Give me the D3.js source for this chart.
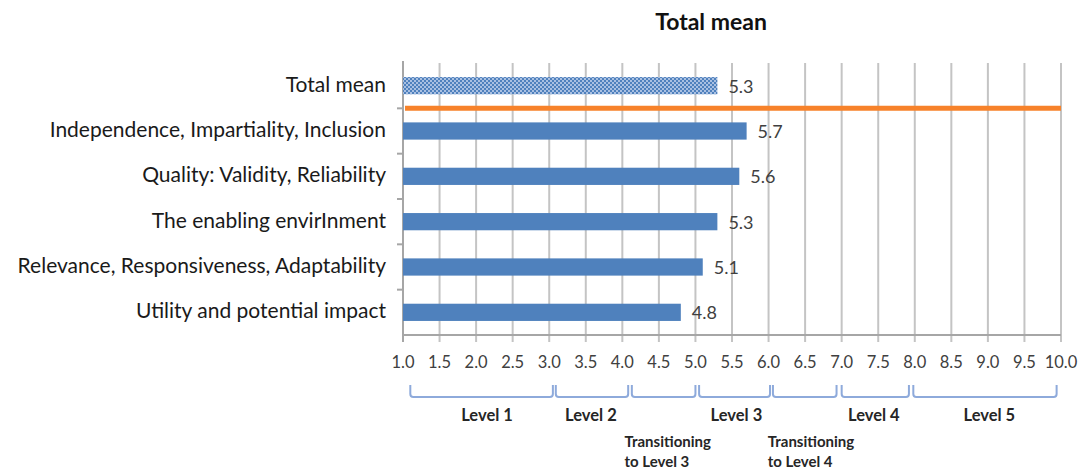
<!DOCTYPE html>
<html>
<head>
<meta charset="utf-8">
<script src="https://cdn.jsdelivr.net/npm/d3@7"></script>
<style>
  body { margin: 0; background: #fff; }
  text { font-family: Lato, "Open Sans", sans-serif; }
</style>
</head>
<body>
<div id="chart"></div>
<script>
// 数据
const categories = ['Total mean', 'Independence, Impartiality, Inclusion', 'Quality: Validity, Reliability',
    'The enabling envirInment', 'Relevance, Responsiveness, Adaptability', 'Utility and potential impact'];
const values = [5.3, 5.7, 5.6, 5.3, 5.1, 4.8];
const xTicks = [1.0, 1.5, 2.0, 2.5, 3.0, 3.5, 4.0, 4.5, 5.0, 5.5, 6.0, 6.5, 7.0, 7.5, 8.0, 8.5, 9.0, 9.5, 10.0];

// 等级括号（起点、终点）
const levelStart = [1.1, 3.09, 4.13, 5.05, 6.06, 7.0, 7.98];
const levelEnd = [3.05, 4.08, 5.0, 6.02, 6.93, 7.92, 9.94];
const levelLabels = ['Level 1', 'Level 2', 'Level 3', 'Level 4', 'Level 5'];
const levelLabelPos = [2.15, 3.57, 5.56, 7.44, 9.02];
const transitionLabels = [['Transitioning', 'to Level 3'], ['Transitioning', 'to Level 4']];
const transitionPos = [4.03, 5.99];

const width = 1085, height = 470;
const margin = { top: 63, right: 24, bottom: 135, left: 403 };

const svg = d3.select('#chart').append('svg')
    .attr('width', width)
    .attr('height', height);

// 图案（总均值的网格填充）
const defs = svg.append('defs');
const pat = defs.append('pattern')
    .attr('id', 'dots')
    .attr('width', 4).attr('height', 4)
    .attr('patternUnits', 'userSpaceOnUse');
pat.append('rect').attr('width', 4).attr('height', 4).attr('fill', '#a9c0e2');
pat.append('rect').attr('width', 2).attr('height', 2).attr('fill', '#4f81bd');
pat.append('rect').attr('x', 2).attr('y', 2).attr('width', 2).attr('height', 2).attr('fill', '#4f81bd');

const x = d3.scaleLinear()
    .domain([1, 10])
    .range([margin.left, width - margin.right]);

const y = d3.scaleBand()
    .domain(categories)
    .range([margin.top, height - margin.bottom]);

const plotBottom = height - margin.bottom;

// 标题
svg.append('text')
    .attr('x', 711)
    .attr('y', 30)
    .attr('text-anchor', 'middle')
    .attr('font-size', '23px')
    .attr('font-weight', 'bold')
    .attr('fill', '#111')
    .text('Total mean');

// 网格线
svg.selectAll('.grid')
    .data(xTicks.slice(1))
    .enter()
    .append('line')
    .attr('class', 'grid')
    .attr('x1', d => x(d)).attr('x2', d => x(d))
    .attr('y1', margin.top).attr('y2', plotBottom + 7)
    .attr('stroke', '#c4c4c4')
    .attr('stroke-width', 2);

// 轴线
svg.append('line')
    .attr('x1', x(1)).attr('x2', x(1))
    .attr('y1', margin.top - 2).attr('y2', plotBottom + 7)
    .attr('stroke', '#a6a6a6').attr('stroke-width', 2);
svg.append('line')
    .attr('x1', x(1)).attr('x2', x(10))
    .attr('y1', plotBottom).attr('y2', plotBottom)
    .attr('stroke', '#a6a6a6').attr('stroke-width', 2);

// y 轴刻度
svg.selectAll('.ytick')
    .data(categories.slice(1))
    .enter()
    .append('line')
    .attr('class', 'ytick')
    .attr('x1', x(1) - 6).attr('x2', x(1))
    .attr('y1', d => y(d)).attr('y2', d => y(d))
    .attr('stroke', '#a6a6a6').attr('stroke-width', 2);

// 条形
const barH = y.bandwidth() * 0.38;
svg.selectAll('.bar')
    .data(categories)
    .enter()
    .append('rect')
    .attr('class', 'bar')
    .attr('x', x(1))
    .attr('y', d => y(d) + y.bandwidth() / 2 - barH / 2)
    .attr('width', (d, i) => x(values[i]) - x(1))
    .attr('height', barH)
    .attr('fill', (d, i) => i === 0 ? 'url(#dots)' : '#4f81bd');

// 橙色分隔线
svg.append('line')
    .attr('x1', x(1) + 2).attr('x2', x(10))
    .attr('y1', y(categories[1])).attr('y2', y(categories[1]))
    .attr('stroke', '#f7822a')
    .attr('stroke-width', 5);

// 数值标签
svg.selectAll('.val')
    .data(categories)
    .enter()
    .append('text')
    .attr('class', 'val')
    .attr('x', (d, i) => x(values[i]) + 11)
    .attr('y', d => y(d) + y.bandwidth() / 2 + 7)
    .attr('font-size', '18px')
    .attr('fill', '#404040')
    .text((d, i) => values[i].toFixed(1));

// y 标签
svg.selectAll('.ylabel')
    .data(categories)
    .enter()
    .append('text')
    .attr('class', 'ylabel')
    .attr('x', 386)
    .attr('y', d => y(d) + y.bandwidth() / 2 + 6)
    .attr('text-anchor', 'end')
    .attr('font-size', '21px')
    .attr('fill', '#1a1a1a')
    .text(d => d);

// x 刻度标签
svg.selectAll('.xlabel')
    .data(xTicks)
    .enter()
    .append('text')
    .attr('class', 'xlabel')
    .attr('x', d => x(d))
    .attr('y', 368)
    .attr('text-anchor', 'middle')
    .attr('font-size', '16.5px')
    .attr('fill', '#404040')
    .text(d => d.toFixed(1));

// 括号
const bTop = 385, bBot = 397, r = 3;
svg.selectAll('.bracket')
    .data(levelStart)
    .enter()
    .append('path')
    .attr('class', 'bracket')
    .attr('d', (d, i) => {
        const a = x(d), b = x(levelEnd[i]);
        return `M${a},${bTop} L${a},${bBot - r} Q${a},${bBot} ${a + r},${bBot} L${b - r},${bBot} Q${b},${bBot} ${b},${bBot - r} L${b},${bTop}`;
    })
    .attr('fill', 'none')
    .attr('stroke', '#8eaadb')
    .attr('stroke-width', 2);

svg.selectAll('.lvl')
    .data(levelLabels)
    .enter()
    .append('text')
    .attr('class', 'lvl')
    .attr('x', (d, i) => x(levelLabelPos[i]))
    .attr('y', 421)
    .attr('text-anchor', 'middle')
    .attr('font-size', '16.5px')
    .attr('font-weight', 'bold')
    .attr('fill', '#262626')
    .text(d => d);

transitionLabels.forEach((lines, i) => {
    lines.forEach((t, k) => {
        svg.append('text')
            .attr('x', x(transitionPos[i]))
            .attr('y', 447 + k * 20)
            .attr('font-size', '15px')
            .attr('font-weight', 'bold')
            .attr('fill', '#262626')
            .text(t);
    });
});
</script>
</body>
</html>
